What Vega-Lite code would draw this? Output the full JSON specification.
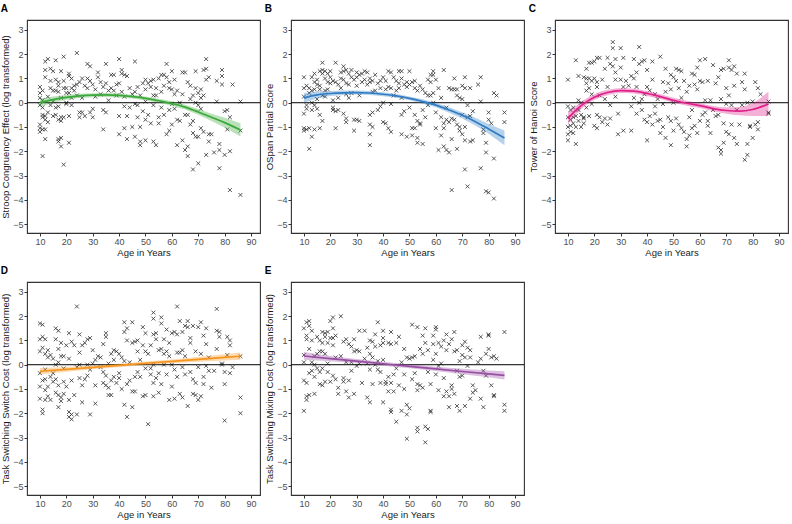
{
"$schema":"https://vega.github.io/schema/vega-lite/v6.json",
"padding":{"left":0,"top":3,"right":0,"bottom":0},
"background":"white",
"config":{
 "font":"Liberation Sans",
 "view":{"stroke":"#333333","strokeWidth":1.1},
 "axis":{"grid":false,"domain":false,"labelFontSize":9,"labelColor":"#4d4d4d","titleFontSize":9.5,"titleFontWeight":"normal","titleColor":"#1a1a1a","tickColor":"#333333","tickSize":3,"labelPadding":1,"titlePadding":2,"labelFont":"Liberation Sans","titleFont":"Liberation Sans","labelOverlap":false,"labelFlush":false,"labelBound":false},
 "axisX":{"labelPadding":1,"titlePadding":1},
 "title":{"fontSize":10,"fontWeight":"bold","anchor":"start","frame":"bounds","offset":6,"font":"Liberation Sans","color":"#000000"}
},
"columns":3,
"spacing":{"row":7,"column":2},
"datasets":{
"ptsA":[{"age":10,"v":0.65},{"age":10,"v":0.4},{"age":10,"v":0.2},{"age":10,"v":-0.1},{"age":10,"v":-0.9},{"age":10,"v":-1.05},{"age":10,"v":-1.2},{"age":11,"v":0.5},{"age":11,"v":0.1},{"age":11,"v":-0.2},{"age":11,"v":-0.5},{"age":11,"v":-0.6},{"age":11,"v":-1.1},{"age":11,"v":-2.2},{"age":12,"v":1.7},{"age":12,"v":1.35},{"age":12,"v":1.05},{"age":12,"v":-0.55},{"age":12,"v":-0.7},{"age":12,"v":-1.5},{"age":12,"v":-1.1},{"age":13,"v":1.8},{"age":13,"v":0.25},{"age":13,"v":-0.4},{"age":13,"v":-0.8},{"age":14,"v":1.4},{"age":14,"v":0.9},{"age":14,"v":0.6},{"age":14,"v":-0.1},{"age":15,"v":1.3},{"age":15,"v":0.5},{"age":15,"v":0.05},{"age":15,"v":-0.55},{"age":16,"v":1.75},{"age":16,"v":0.95},{"age":16,"v":0.5},{"age":16,"v":-0.2},{"age":16,"v":-0.5},{"age":17,"v":0.85},{"age":17,"v":0.7},{"age":17,"v":0.45},{"age":17,"v":-0.15},{"age":17,"v":-0.7},{"age":17,"v":-1.5},{"age":17,"v":-1.6},{"age":18,"v":1.3},{"age":18,"v":0.2},{"age":18,"v":-0.6},{"age":18,"v":-0.75},{"age":18,"v":-1.45},{"age":18,"v":-1.8},{"age":19,"v":1.9},{"age":19,"v":0.9},{"age":19,"v":0.6},{"age":19,"v":-0.6},{"age":19,"v":-2.55},{"age":20,"v":0.6},{"age":20,"v":0.4},{"age":20,"v":0.0},{"age":20,"v":-0.05},{"age":21,"v":1.2},{"age":21,"v":1.1},{"age":21,"v":0.4},{"age":21,"v":-0.55},{"age":21,"v":-1.65},{"age":22,"v":1.0},{"age":22,"v":0.6},{"age":22,"v":0.2},{"age":22,"v":-0.1},{"age":23,"v":0.7},{"age":23,"v":0.5},{"age":24,"v":2.05},{"age":24,"v":0.75},{"age":24,"v":0.3},{"age":25,"v":0.85},{"age":25,"v":-0.4},{"age":25,"v":-0.6},{"age":26,"v":1.0},{"age":26,"v":0.2},{"age":26,"v":-0.4},{"age":27,"v":0.7},{"age":27,"v":-0.55},{"age":28,"v":1.6},{"age":28,"v":1.0},{"age":28,"v":0.6},{"age":29,"v":1.5},{"age":29,"v":0.9},{"age":29,"v":-0.4},{"age":30,"v":0.75},{"age":30,"v":-0.25},{"age":30,"v":-0.6},{"age":31,"v":0.55},{"age":31,"v":0.25},{"age":32,"v":1.25},{"age":32,"v":1.05},{"age":33,"v":0.85},{"age":33,"v":0.35},{"age":34,"v":0.65},{"age":34,"v":-0.3},{"age":34,"v":-1.1},{"age":35,"v":1.6},{"age":35,"v":0.8},{"age":35,"v":-0.4},{"age":36,"v":0.5},{"age":36,"v":0.1},{"age":37,"v":1.15},{"age":37,"v":0.6},{"age":38,"v":1.15},{"age":38,"v":0.5},{"age":39,"v":0.75},{"age":39,"v":0.3},{"age":40,"v":1.8},{"age":40,"v":0.8},{"age":40,"v":-0.55},{"age":40,"v":-1.3},{"age":41,"v":1.35},{"age":41,"v":1.2},{"age":41,"v":0.45},{"age":42,"v":1.15},{"age":42,"v":0.25},{"age":42,"v":-0.15},{"age":42,"v":-1.05},{"age":43,"v":1.1},{"age":43,"v":-0.55},{"age":43,"v":-1.5},{"age":44,"v":0.6},{"age":44,"v":-0.2},{"age":45,"v":0.35},{"age":45,"v":-1.0},{"age":46,"v":1.7},{"age":46,"v":0.45},{"age":46,"v":-0.05},{"age":46,"v":-1.4},{"age":47,"v":0.65},{"age":47,"v":-0.1},{"age":47,"v":-0.6},{"age":48,"v":0.3},{"age":48,"v":-1.0},{"age":48,"v":-1.6},{"age":48,"v":-1.75},{"age":49,"v":0.8},{"age":49,"v":-0.35},{"age":50,"v":0.95},{"age":50,"v":0.55},{"age":50,"v":0.05},{"age":50,"v":-0.7},{"age":50,"v":-1.55},{"age":51,"v":0.8},{"age":51,"v":-0.5},{"age":52,"v":0.9},{"age":52,"v":0.65},{"age":52,"v":-0.85},{"age":53,"v":0.95},{"age":53,"v":0.3},{"age":53,"v":-0.1},{"age":53,"v":-1.6},{"age":54,"v":0.6},{"age":54,"v":0.3},{"age":54,"v":-1.75},{"age":55,"v":1.0},{"age":55,"v":-0.6},{"age":55,"v":-0.85},{"age":56,"v":1.15},{"age":56,"v":0.45},{"age":56,"v":-0.2},{"age":57,"v":1.15},{"age":57,"v":0.7},{"age":57,"v":-0.5},{"age":58,"v":1.6},{"age":58,"v":1.05},{"age":58,"v":-1.3},{"age":59,"v":0.85},{"age":59,"v":0.6},{"age":59,"v":-0.3},{"age":59,"v":-1.15},{"age":60,"v":1.3},{"age":60,"v":0.55},{"age":60,"v":-0.05},{"age":60,"v":-0.9},{"age":61,"v":0.95},{"age":61,"v":0.35},{"age":61,"v":-0.25},{"age":62,"v":0.5},{"age":62,"v":-0.7},{"age":62,"v":-1.75},{"age":63,"v":0.0},{"age":63,"v":-0.75},{"age":64,"v":1.25},{"age":64,"v":0.35},{"age":64,"v":-1.55},{"age":65,"v":1.25},{"age":65,"v":-0.5},{"age":65,"v":-1.95},{"age":66,"v":0.85},{"age":66,"v":-0.5},{"age":66,"v":-1.8},{"age":66,"v":-2.2},{"age":67,"v":0.7},{"age":67,"v":0.15},{"age":67,"v":-0.9},{"age":68,"v":0.3},{"age":68,"v":-0.75},{"age":68,"v":-1.25},{"age":68,"v":-2.75},{"age":69,"v":1.3},{"age":69,"v":0.6},{"age":69,"v":0.0},{"age":69,"v":-1.4},{"age":70,"v":0.4},{"age":70,"v":-0.1},{"age":70,"v":-1.4},{"age":70,"v":-2.5},{"age":71,"v":0.55},{"age":71,"v":0.2},{"age":71,"v":-0.25},{"age":71,"v":-1.05},{"age":72,"v":1.35},{"age":72,"v":0.3},{"age":72,"v":-1.2},{"age":73,"v":1.8},{"age":73,"v":1.4},{"age":73,"v":0.95},{"age":73,"v":-2.15},{"age":74,"v":1.05},{"age":74,"v":-1.3},{"age":74,"v":-1.6},{"age":75,"v":-1.3},{"age":76,"v":-2.05},{"age":77,"v":0.9},{"age":77,"v":0.05},{"age":78,"v":-1.7},{"age":78,"v":-2.7},{"age":78,"v":-1.95},{"age":79,"v":1.35},{"age":79,"v":1.1},{"age":79,"v":0.75},{"age":80,"v":-0.35},{"age":80,"v":-2.15},{"age":81,"v":-0.3},{"age":81,"v":-1.1},{"age":82,"v":-0.6},{"age":82,"v":-2.0},{"age":82,"v":-3.6},{"age":83,"v":0.75},{"age":86,"v":0.05},{"age":86,"v":-1.15},{"age":86,"v":-3.8}],
"ptsB":[{"age":10,"v":1.05},{"age":10,"v":0.6},{"age":10,"v":0.25},{"age":10,"v":-0.45},{"age":10,"v":-1.05},{"age":10,"v":-1.15},{"age":11,"v":0.7},{"age":11,"v":-0.1},{"age":11,"v":-0.25},{"age":11,"v":-1.1},{"age":12,"v":0.6},{"age":12,"v":0.4},{"age":12,"v":-1.05},{"age":12,"v":-1.9},{"age":13,"v":1.05},{"age":13,"v":0.5},{"age":13,"v":0.0},{"age":13,"v":-0.3},{"age":13,"v":-1.4},{"age":14,"v":1.2},{"age":14,"v":0.85},{"age":14,"v":0.55},{"age":14,"v":-0.1},{"age":14,"v":-1.1},{"age":15,"v":0.95},{"age":15,"v":0.75},{"age":15,"v":0.15},{"age":15,"v":-0.25},{"age":16,"v":1.3},{"age":16,"v":0.7},{"age":16,"v":0.55},{"age":16,"v":-0.5},{"age":16,"v":-1.05},{"age":17,"v":1.65},{"age":17,"v":1.35},{"age":17,"v":1.2},{"age":17,"v":0.3},{"age":17,"v":-0.75},{"age":18,"v":1.3},{"age":18,"v":1.0},{"age":18,"v":0.5},{"age":18,"v":0.25},{"age":19,"v":1.2},{"age":19,"v":0.85},{"age":19,"v":0.55},{"age":20,"v":1.3},{"age":20,"v":1.05},{"age":20,"v":0.8},{"age":21,"v":0.9},{"age":21,"v":0.1},{"age":21,"v":-0.2},{"age":21,"v":-0.3},{"age":22,"v":1.65},{"age":22,"v":0.85},{"age":22,"v":-0.35},{"age":22,"v":-1.05},{"age":23,"v":0.75},{"age":23,"v":0.2},{"age":23,"v":-0.3},{"age":24,"v":1.25},{"age":24,"v":1.0},{"age":24,"v":0.6},{"age":25,"v":1.5},{"age":25,"v":1.3},{"age":25,"v":0.95},{"age":25,"v":-0.45},{"age":26,"v":1.35},{"age":26,"v":0.8},{"age":26,"v":0.35},{"age":26,"v":-0.65},{"age":26,"v":-0.8},{"age":27,"v":1.2},{"age":27,"v":0.75},{"age":27,"v":0.2},{"age":28,"v":1.35},{"age":28,"v":1.05},{"age":28,"v":0.4},{"age":29,"v":0.95},{"age":29,"v":-0.7},{"age":29,"v":-1.15},{"age":30,"v":1.25},{"age":30,"v":1.05},{"age":30,"v":0.7},{"age":30,"v":-0.7},{"age":31,"v":1.15},{"age":31,"v":0.3},{"age":31,"v":-0.75},{"age":32,"v":1.2},{"age":32,"v":0.85},{"age":33,"v":1.3},{"age":33,"v":0.95},{"age":34,"v":1.25},{"age":34,"v":0.75},{"age":35,"v":1.0},{"age":35,"v":0.85},{"age":35,"v":-0.5},{"age":35,"v":-0.9},{"age":35,"v":-1.3},{"age":35,"v":-1.75},{"age":36,"v":0.9},{"age":36,"v":0.45},{"age":36,"v":-0.4},{"age":36,"v":-1.0},{"age":37,"v":1.15},{"age":37,"v":0.5},{"age":38,"v":0.8},{"age":38,"v":-0.3},{"age":39,"v":0.9},{"age":39,"v":0.6},{"age":39,"v":-0.15},{"age":40,"v":1.05},{"age":40,"v":0.0},{"age":40,"v":-0.8},{"age":41,"v":0.9},{"age":41,"v":0.55},{"age":41,"v":-0.85},{"age":42,"v":1.3},{"age":42,"v":0.65},{"age":42,"v":-1.05},{"age":43,"v":1.25},{"age":43,"v":0.6},{"age":43,"v":-0.05},{"age":43,"v":-1.2},{"age":44,"v":1.05},{"age":44,"v":0.3},{"age":45,"v":0.9},{"age":45,"v":0.5},{"age":46,"v":1.3},{"age":46,"v":0.8},{"age":46,"v":0.6},{"age":47,"v":1.3},{"age":47,"v":1.0},{"age":47,"v":0.2},{"age":47,"v":-0.5},{"age":47,"v":-1.3},{"age":48,"v":0.75},{"age":48,"v":-0.35},{"age":49,"v":0.85},{"age":49,"v":0.65},{"age":49,"v":-1.4},{"age":50,"v":1.3},{"age":50,"v":0.75},{"age":50,"v":-0.2},{"age":51,"v":0.85},{"age":51,"v":-1.05},{"age":51,"v":-1.35},{"age":52,"v":0.9},{"age":52,"v":0.6},{"age":52,"v":-0.5},{"age":52,"v":-1.05},{"age":53,"v":0.5},{"age":53,"v":-0.75},{"age":53,"v":-1.45},{"age":53,"v":-1.65},{"age":54,"v":0.7},{"age":54,"v":-0.85},{"age":54,"v":-0.9},{"age":55,"v":0.55},{"age":55,"v":-0.3},{"age":55,"v":-1.7},{"age":56,"v":0.4},{"age":56,"v":-0.6},{"age":57,"v":0.95},{"age":57,"v":0.3},{"age":57,"v":-0.1},{"age":58,"v":1.15},{"age":58,"v":0.85},{"age":58,"v":0.3},{"age":59,"v":1.3},{"age":59,"v":1.15},{"age":59,"v":0.4},{"age":59,"v":0.0},{"age":60,"v":0.95},{"age":60,"v":-0.4},{"age":60,"v":-1.05},{"age":61,"v":0.6},{"age":61,"v":-1.95},{"age":62,"v":0.2},{"age":62,"v":-0.6},{"age":62,"v":-1.35},{"age":63,"v":1.35},{"age":63,"v":-0.85},{"age":63,"v":-1.05},{"age":63,"v":-1.8},{"age":64,"v":-0.2},{"age":64,"v":-0.7},{"age":64,"v":-1.95},{"age":65,"v":-2.05},{"age":65,"v":0.6},{"age":65,"v":-0.8},{"age":66,"v":0.55},{"age":66,"v":-0.65},{"age":66,"v":-1.5},{"age":66,"v":-3.6},{"age":67,"v":1.0},{"age":67,"v":0.55},{"age":67,"v":-0.7},{"age":68,"v":0.55},{"age":68,"v":0.3},{"age":68,"v":-0.9},{"age":68,"v":-1.9},{"age":69,"v":0.2},{"age":69,"v":-1.0},{"age":69,"v":-1.15},{"age":70,"v":0.7},{"age":70,"v":0.15},{"age":70,"v":-0.5},{"age":70,"v":-1.3},{"age":71,"v":1.05},{"age":71,"v":0.6},{"age":71,"v":-1.0},{"age":71,"v":-1.55},{"age":71,"v":-2.75},{"age":72,"v":-0.1},{"age":72,"v":-0.6},{"age":72,"v":-3.45},{"age":73,"v":0.6},{"age":73,"v":-0.55},{"age":73,"v":-1.6},{"age":74,"v":-0.35},{"age":74,"v":-1.55},{"age":76,"v":0.75},{"age":77,"v":1.05},{"age":77,"v":0.05},{"age":77,"v":-2.7},{"age":78,"v":-1.1},{"age":78,"v":-1.25},{"age":79,"v":-1.65},{"age":79,"v":-2.05},{"age":79,"v":-3.65},{"age":80,"v":-0.4},{"age":80,"v":-0.7},{"age":80,"v":-3.7},{"age":81,"v":-0.85},{"age":82,"v":0.4},{"age":82,"v":-2.3},{"age":82,"v":-3.95},{"age":83,"v":0.3},{"age":86,"v":-0.4},{"age":86,"v":-0.8}],
"ptsC":[{"age":10,"v":0.95},{"age":10,"v":-0.15},{"age":10,"v":-0.6},{"age":10,"v":-1.0},{"age":10,"v":-1.3},{"age":10,"v":-1.55},{"age":11,"v":-0.3},{"age":11,"v":-0.7},{"age":11,"v":-1.2},{"age":11,"v":-0.95},{"age":12,"v":-0.2},{"age":12,"v":-0.6},{"age":12,"v":-1.25},{"age":12,"v":-0.85},{"age":13,"v":1.75},{"age":13,"v":-0.55},{"age":13,"v":-1.0},{"age":13,"v":-1.7},{"age":14,"v":1.1},{"age":14,"v":0.1},{"age":14,"v":-0.3},{"age":14,"v":-0.75},{"age":15,"v":0.0},{"age":15,"v":-0.5},{"age":15,"v":-1.0},{"age":16,"v":1.05},{"age":16,"v":-0.6},{"age":16,"v":-0.65},{"age":16,"v":-0.85},{"age":17,"v":1.4},{"age":17,"v":1.0},{"age":17,"v":0.8},{"age":17,"v":0.5},{"age":17,"v":-0.2},{"age":18,"v":1.65},{"age":18,"v":1.0},{"age":18,"v":0.6},{"age":18,"v":-0.55},{"age":19,"v":1.65},{"age":19,"v":0.9},{"age":19,"v":0.35},{"age":19,"v":-0.05},{"age":20,"v":1.7},{"age":20,"v":1.0},{"age":20,"v":-0.95},{"age":21,"v":1.85},{"age":21,"v":0.85},{"age":21,"v":0.65},{"age":21,"v":-1.05},{"age":21,"v":-0.5},{"age":22,"v":1.85},{"age":22,"v":0.3},{"age":22,"v":-0.6},{"age":23,"v":0.95},{"age":23,"v":-0.8},{"age":24,"v":1.4},{"age":24,"v":0.15},{"age":24,"v":-0.65},{"age":25,"v":1.85},{"age":25,"v":0.65},{"age":25,"v":-0.9},{"age":26,"v":1.6},{"age":26,"v":-0.1},{"age":26,"v":-0.65},{"age":27,"v":2.5},{"age":27,"v":2.25},{"age":27,"v":1.5},{"age":28,"v":1.8},{"age":28,"v":1.25},{"age":28,"v":0.95},{"age":28,"v":0.25},{"age":29,"v":-0.45},{"age":29,"v":-1.3},{"age":30,"v":2.25},{"age":30,"v":1.45},{"age":30,"v":0.95},{"age":31,"v":1.85},{"age":31,"v":0.65},{"age":31,"v":-1.15},{"age":32,"v":0.9},{"age":33,"v":0.7},{"age":34,"v":1.1},{"age":34,"v":-0.15},{"age":34,"v":-1.15},{"age":35,"v":1.0},{"age":35,"v":1.8},{"age":35,"v":0.2},{"age":36,"v":1.25},{"age":36,"v":0.65},{"age":36,"v":-0.45},{"age":37,"v":2.3},{"age":37,"v":1.6},{"age":37,"v":0.0},{"age":38,"v":1.7},{"age":38,"v":0.15},{"age":38,"v":-0.3},{"age":39,"v":1.75},{"age":39,"v":0.35},{"age":39,"v":-0.7},{"age":40,"v":1.35},{"age":40,"v":0.65},{"age":40,"v":-0.8},{"age":40,"v":-1.55},{"age":41,"v":0.5},{"age":41,"v":-0.55},{"age":42,"v":1.7},{"age":42,"v":0.95},{"age":42,"v":-0.9},{"age":43,"v":0.35},{"age":43,"v":-0.15},{"age":43,"v":-0.45},{"age":44,"v":0.15},{"age":44,"v":-0.75},{"age":45,"v":1.9},{"age":45,"v":-0.7},{"age":45,"v":-1.25},{"age":46,"v":0.85},{"age":46,"v":-0.05},{"age":46,"v":-1.0},{"age":47,"v":1.4},{"age":47,"v":0.45},{"age":47,"v":-1.45},{"age":48,"v":0.8},{"age":48,"v":-0.6},{"age":49,"v":1.15},{"age":49,"v":0.55},{"age":49,"v":-0.75},{"age":49,"v":-1.75},{"age":50,"v":1.05},{"age":50,"v":0.0},{"age":50,"v":-1.15},{"age":51,"v":1.4},{"age":51,"v":0.9},{"age":51,"v":-0.65},{"age":52,"v":1.35},{"age":52,"v":0.6},{"age":52,"v":-0.9},{"age":53,"v":1.3},{"age":53,"v":0.2},{"age":53,"v":-1.05},{"age":54,"v":0.9},{"age":54,"v":-1.2},{"age":55,"v":0.45},{"age":55,"v":-1.5},{"age":55,"v":-1.8},{"age":56,"v":0.7},{"age":56,"v":-0.6},{"age":56,"v":-1.35},{"age":57,"v":1.2},{"age":57,"v":-0.3},{"age":57,"v":-1.05},{"age":58,"v":1.15},{"age":58,"v":0.75},{"age":58,"v":-0.95},{"age":59,"v":1.45},{"age":59,"v":0.55},{"age":59,"v":-1.25},{"age":60,"v":1.75},{"age":60,"v":0.9},{"age":60,"v":-0.75},{"age":61,"v":0.85},{"age":61,"v":-0.5},{"age":62,"v":1.8},{"age":62,"v":0.1},{"age":62,"v":-0.4},{"age":63,"v":0.9},{"age":63,"v":-0.75},{"age":63,"v":-0.95},{"age":64,"v":-1.25},{"age":64,"v":0.1},{"age":65,"v":1.55},{"age":65,"v":-0.3},{"age":66,"v":0.8},{"age":66,"v":-0.55},{"age":67,"v":1.05},{"age":67,"v":-0.5},{"age":67,"v":-1.85},{"age":68,"v":1.35},{"age":68,"v":0.15},{"age":68,"v":-2.1},{"age":68,"v":-1.95},{"age":69,"v":1.4},{"age":69,"v":-0.85},{"age":69,"v":-1.65},{"age":70,"v":0.6},{"age":70,"v":-0.05},{"age":70,"v":-1.2},{"age":71,"v":1.75},{"age":71,"v":1.45},{"age":71,"v":0.3},{"age":71,"v":-1.3},{"age":72,"v":1.35},{"age":72,"v":-0.1},{"age":72,"v":-0.9},{"age":73,"v":1.5},{"age":73,"v":0.7},{"age":73,"v":-1.45},{"age":74,"v":1.2},{"age":74,"v":-0.3},{"age":74,"v":-1.7},{"age":75,"v":-0.9},{"age":76,"v":0.85},{"age":76,"v":-0.1},{"age":77,"v":1.2},{"age":77,"v":0.55},{"age":77,"v":-2.35},{"age":78,"v":0.0},{"age":78,"v":-1.7},{"age":78,"v":-2.15},{"age":79,"v":-1.0},{"age":79,"v":-0.95},{"age":80,"v":0.05},{"age":80,"v":-1.45},{"age":81,"v":-0.9},{"age":81,"v":0.85},{"age":82,"v":0.6},{"age":82,"v":-0.8},{"age":82,"v":-1.1},{"age":83,"v":0.35},{"age":86,"v":0.05},{"age":86,"v":-0.4},{"age":86,"v":-0.45}],
"ptsD":[{"age":10,"v":1.7},{"age":10,"v":1.05},{"age":10,"v":0.55},{"age":10,"v":-0.35},{"age":10,"v":-0.9},{"age":10,"v":-1.4},{"age":11,"v":1.65},{"age":11,"v":1.15},{"age":11,"v":0.7},{"age":11,"v":-0.65},{"age":11,"v":-1.85},{"age":11,"v":-2.0},{"age":12,"v":1.05},{"age":12,"v":0.45},{"age":12,"v":-0.2},{"age":12,"v":-0.6},{"age":12,"v":-1.05},{"age":12,"v":-1.45},{"age":13,"v":0.6},{"age":13,"v":0.3},{"age":13,"v":-0.9},{"age":13,"v":-1.3},{"age":14,"v":0.4},{"age":14,"v":-0.5},{"age":14,"v":-1.45},{"age":15,"v":0.25},{"age":15,"v":-0.35},{"age":15,"v":-0.7},{"age":16,"v":1.5},{"age":16,"v":1.05},{"age":16,"v":0.0},{"age":16,"v":-0.6},{"age":16,"v":-1.15},{"age":17,"v":1.4},{"age":17,"v":0.65},{"age":17,"v":0.1},{"age":17,"v":-0.85},{"age":17,"v":-1.25},{"age":17,"v":-1.75},{"age":18,"v":0.9},{"age":18,"v":0.35},{"age":18,"v":-1.35},{"age":18,"v":-1.5},{"age":19,"v":0.35},{"age":19,"v":-0.15},{"age":19,"v":-0.7},{"age":19,"v":-1.2},{"age":20,"v":0.8},{"age":20,"v":-0.9},{"age":21,"v":1.3},{"age":21,"v":0.25},{"age":21,"v":-1.45},{"age":21,"v":-1.95},{"age":21,"v":-2.15},{"age":22,"v":0.95},{"age":22,"v":-0.65},{"age":22,"v":-2.05},{"age":22,"v":-2.25},{"age":23,"v":0.8},{"age":23,"v":-1.25},{"age":24,"v":2.4},{"age":24,"v":-0.1},{"age":24,"v":-2.05},{"age":25,"v":1.25},{"age":25,"v":0.5},{"age":25,"v":0.0},{"age":25,"v":-0.55},{"age":26,"v":0.8},{"age":26,"v":-0.85},{"age":26,"v":-1.55},{"age":27,"v":0.9},{"age":27,"v":-0.6},{"age":28,"v":1.05},{"age":28,"v":0.0},{"age":28,"v":-0.45},{"age":29,"v":1.1},{"age":29,"v":-0.2},{"age":29,"v":-2.05},{"age":30,"v":0.6},{"age":30,"v":0.05},{"age":31,"v":0.2},{"age":31,"v":-0.85},{"age":31,"v":-1.6},{"age":32,"v":0.35},{"age":33,"v":0.3},{"age":33,"v":-0.1},{"age":34,"v":0.85},{"age":34,"v":-0.3},{"age":34,"v":-0.75},{"age":35,"v":1.3},{"age":35,"v":1.15},{"age":35,"v":-0.45},{"age":35,"v":-0.85},{"age":36,"v":0.05},{"age":36,"v":-0.95},{"age":36,"v":-1.25},{"age":37,"v":0.45},{"age":37,"v":-0.65},{"age":37,"v":-1.25},{"age":38,"v":0.6},{"age":38,"v":0.2},{"age":38,"v":-0.5},{"age":39,"v":0.55},{"age":39,"v":-0.75},{"age":40,"v":0.45},{"age":40,"v":-0.35},{"age":40,"v":-0.55},{"age":41,"v":0.3},{"age":41,"v":-1.0},{"age":42,"v":1.75},{"age":42,"v":1.35},{"age":42,"v":0.15},{"age":42,"v":-1.65},{"age":43,"v":1.5},{"age":43,"v":1.0},{"age":43,"v":-0.8},{"age":43,"v":-2.15},{"age":44,"v":0.1},{"age":44,"v":-0.65},{"age":45,"v":1.75},{"age":45,"v":0.9},{"age":45,"v":-1.1},{"age":45,"v":-1.75},{"age":46,"v":0.95},{"age":46,"v":-0.5},{"age":46,"v":-1.1},{"age":47,"v":1.0},{"age":47,"v":0.55},{"age":47,"v":-0.3},{"age":48,"v":0.2},{"age":48,"v":-0.5},{"age":49,"v":1.55},{"age":49,"v":0.8},{"age":49,"v":-1.3},{"age":50,"v":1.3},{"age":50,"v":0.55},{"age":50,"v":-1.25},{"age":50,"v":-0.15},{"age":51,"v":0.45},{"age":51,"v":-2.45},{"age":52,"v":0.8},{"age":52,"v":-0.15},{"age":52,"v":-0.4},{"age":53,"v":2.15},{"age":53,"v":1.9},{"age":53,"v":1.25},{"age":53,"v":0.0},{"age":53,"v":-0.75},{"age":53,"v":-1.3},{"age":54,"v":1.3},{"age":54,"v":1.05},{"age":54,"v":-0.55},{"age":55,"v":0.6},{"age":55,"v":-0.35},{"age":55,"v":-1.15},{"age":56,"v":1.95},{"age":56,"v":1.7},{"age":56,"v":0.65},{"age":56,"v":-0.8},{"age":57,"v":1.05},{"age":57,"v":0.45},{"age":57,"v":0.0},{"age":58,"v":1.45},{"age":58,"v":0.55},{"age":58,"v":-0.4},{"age":59,"v":0.9},{"age":59,"v":0.35},{"age":59,"v":-1.45},{"age":60,"v":1.3},{"age":60,"v":0.0},{"age":60,"v":-0.9},{"age":61,"v":1.35},{"age":61,"v":-0.2},{"age":61,"v":-1.4},{"age":62,"v":2.4},{"age":62,"v":1.25},{"age":62,"v":0.5},{"age":62,"v":-0.5},{"age":63,"v":1.8},{"age":63,"v":0.5},{"age":63,"v":-1.2},{"age":64,"v":1.35},{"age":64,"v":0.6},{"age":64,"v":-0.1},{"age":64,"v":-1.35},{"age":65,"v":1.6},{"age":65,"v":0.35},{"age":65,"v":-0.4},{"age":66,"v":1.8},{"age":66,"v":1.55},{"age":66,"v":-1.7},{"age":67,"v":1.1},{"age":67,"v":0.9},{"age":67,"v":-0.3},{"age":68,"v":1.6},{"age":68,"v":-0.6},{"age":68,"v":-1.2},{"age":69,"v":0.55},{"age":69,"v":-0.75},{"age":69,"v":-1.25},{"age":70,"v":1.55},{"age":70,"v":-0.1},{"age":70,"v":-1.45},{"age":71,"v":1.75},{"age":71,"v":0.45},{"age":71,"v":-1.3},{"age":72,"v":1.2},{"age":72,"v":-0.5},{"age":72,"v":-0.8},{"age":73,"v":1.5},{"age":73,"v":0.85},{"age":73,"v":-0.05},{"age":74,"v":0.3},{"age":74,"v":-0.25},{"age":75,"v":-0.95},{"age":76,"v":-0.25},{"age":77,"v":2.3},{"age":77,"v":1.4},{"age":77,"v":0.65},{"age":78,"v":1.35},{"age":78,"v":1.15},{"age":79,"v":0.05},{"age":79,"v":0.0},{"age":80,"v":-0.3},{"age":80,"v":-0.8},{"age":80,"v":-2.3},{"age":81,"v":1.15},{"age":81,"v":0.4},{"age":82,"v":1.0},{"age":82,"v":0.8},{"age":82,"v":-0.35},{"age":83,"v":-0.1},{"age":86,"v":0.35},{"age":86,"v":-1.35},{"age":86,"v":-2.0}],
"ptsE":[{"age":10,"v":1.5},{"age":10,"v":0.4},{"age":10,"v":0.1},{"age":10,"v":-0.65},{"age":10,"v":-1.9},{"age":11,"v":1.75},{"age":11,"v":1.2},{"age":11,"v":1.05},{"age":11,"v":-0.75},{"age":11,"v":-1.3},{"age":11,"v":-1.45},{"age":12,"v":1.8},{"age":12,"v":1.6},{"age":12,"v":0.65},{"age":12,"v":-0.35},{"age":12,"v":-1.25},{"age":13,"v":1.4},{"age":13,"v":1.0},{"age":13,"v":0.1},{"age":13,"v":-0.25},{"age":14,"v":0.35},{"age":14,"v":0.0},{"age":14,"v":-0.5},{"age":14,"v":-1.2},{"age":15,"v":1.15},{"age":15,"v":0.45},{"age":15,"v":-0.15},{"age":16,"v":1.0},{"age":16,"v":0.55},{"age":16,"v":-0.3},{"age":16,"v":-0.8},{"age":17,"v":1.35},{"age":17,"v":0.9},{"age":17,"v":0.55},{"age":17,"v":-0.15},{"age":17,"v":-0.85},{"age":18,"v":1.3},{"age":18,"v":1.15},{"age":18,"v":0.45},{"age":18,"v":-0.7},{"age":19,"v":1.35},{"age":19,"v":0.9},{"age":19,"v":0.05},{"age":19,"v":-0.3},{"age":20,"v":1.8},{"age":20,"v":1.1},{"age":20,"v":-0.7},{"age":21,"v":1.95},{"age":21,"v":1.5},{"age":21,"v":1.1},{"age":21,"v":0.8},{"age":21,"v":-0.45},{"age":22,"v":1.2},{"age":22,"v":0.3},{"age":22,"v":-0.6},{"age":23,"v":-0.95},{"age":23,"v":-1.2},{"age":24,"v":2.0},{"age":24,"v":0.35},{"age":25,"v":0.95},{"age":25,"v":-0.55},{"age":25,"v":-0.7},{"age":26,"v":1.05},{"age":26,"v":0.1},{"age":26,"v":-1.1},{"age":27,"v":0.85},{"age":27,"v":-0.65},{"age":27,"v":-1.35},{"age":28,"v":0.75},{"age":28,"v":0.1},{"age":28,"v":-0.25},{"age":29,"v":1.05},{"age":29,"v":0.55},{"age":29,"v":-1.2},{"age":30,"v":0.6},{"age":30,"v":-0.05},{"age":31,"v":1.4},{"age":31,"v":0.55},{"age":31,"v":0.05},{"age":32,"v":-0.75},{"age":33,"v":1.4},{"age":33,"v":0.25},{"age":34,"v":0.7},{"age":34,"v":0.05},{"age":34,"v":-1.35},{"age":35,"v":1.0},{"age":35,"v":0.45},{"age":35,"v":-0.2},{"age":35,"v":-1.55},{"age":36,"v":0.95},{"age":36,"v":0.3},{"age":36,"v":-0.8},{"age":37,"v":1.25},{"age":37,"v":0.75},{"age":37,"v":0.0},{"age":38,"v":1.75},{"age":38,"v":0.15},{"age":38,"v":-0.2},{"age":39,"v":0.8},{"age":39,"v":-0.3},{"age":39,"v":-0.75},{"age":40,"v":1.4},{"age":40,"v":1.1},{"age":40,"v":0.9},{"age":40,"v":0.2},{"age":40,"v":-1.55},{"age":41,"v":-0.7},{"age":41,"v":-0.8},{"age":42,"v":0.9},{"age":42,"v":-0.5},{"age":42,"v":-1.1},{"age":43,"v":1.35},{"age":43,"v":0.85},{"age":43,"v":-1.85},{"age":43,"v":-1.95},{"age":43,"v":-0.75},{"age":44,"v":-0.4},{"age":44,"v":-1.1},{"age":45,"v":0.9},{"age":45,"v":-0.15},{"age":45,"v":-2.35},{"age":46,"v":1.15},{"age":46,"v":-0.85},{"age":47,"v":0.1},{"age":47,"v":-1.9},{"age":48,"v":0.65},{"age":48,"v":-0.4},{"age":48,"v":-1.0},{"age":49,"v":0.3},{"age":49,"v":-1.65},{"age":49,"v":-2.05},{"age":49,"v":-3.05},{"age":50,"v":-1.8},{"age":50,"v":0.25},{"age":51,"v":1.65},{"age":51,"v":0.3},{"age":51,"v":-0.6},{"age":52,"v":0.35},{"age":52,"v":-0.35},{"age":53,"v":1.55},{"age":53,"v":-0.8},{"age":53,"v":-1.05},{"age":53,"v":-2.6},{"age":53,"v":-2.75},{"age":54,"v":0.65},{"age":54,"v":-0.85},{"age":55,"v":1.2},{"age":55,"v":0.45},{"age":55,"v":-0.95},{"age":56,"v":1.5},{"age":56,"v":0.9},{"age":56,"v":-2.55},{"age":56,"v":-3.2},{"age":57,"v":0.6},{"age":57,"v":-0.3},{"age":57,"v":-2.65},{"age":58,"v":-1.9},{"age":58,"v":-1.95},{"age":58,"v":-0.8},{"age":59,"v":1.2},{"age":59,"v":0.85},{"age":59,"v":0.2},{"age":60,"v":1.55},{"age":60,"v":1.45},{"age":60,"v":0.45},{"age":60,"v":-0.4},{"age":61,"v":0.9},{"age":61,"v":-0.05},{"age":61,"v":-1.05},{"age":62,"v":0.75},{"age":62,"v":0.05},{"age":63,"v":1.0},{"age":63,"v":-0.55},{"age":63,"v":-1.3},{"age":64,"v":1.25},{"age":64,"v":0.6},{"age":64,"v":-1.1},{"age":65,"v":0.85},{"age":65,"v":-1.75},{"age":65,"v":-1.3},{"age":66,"v":1.05},{"age":66,"v":-0.85},{"age":66,"v":-1.0},{"age":67,"v":1.35},{"age":67,"v":0.55},{"age":67,"v":-1.2},{"age":68,"v":0.6},{"age":68,"v":-0.25},{"age":68,"v":-1.7},{"age":69,"v":0.15},{"age":69,"v":-0.5},{"age":69,"v":-1.9},{"age":70,"v":0.8},{"age":70,"v":0.4},{"age":70,"v":-0.45},{"age":71,"v":0.95},{"age":71,"v":0.3},{"age":71,"v":-1.7},{"age":72,"v":0.7},{"age":72,"v":-0.05},{"age":73,"v":0.6},{"age":73,"v":0.3},{"age":73,"v":-1.4},{"age":74,"v":-0.85},{"age":74,"v":-1.15},{"age":75,"v":-1.05},{"age":76,"v":0.1},{"age":77,"v":1.15},{"age":77,"v":0.25},{"age":77,"v":-1.4},{"age":78,"v":-0.25},{"age":78,"v":-1.75},{"age":79,"v":0.45},{"age":79,"v":-0.45},{"age":80,"v":1.2},{"age":80,"v":0.65},{"age":80,"v":1.25},{"age":81,"v":0.3},{"age":81,"v":-0.85},{"age":82,"v":0.35},{"age":82,"v":-1.25},{"age":82,"v":-1.3},{"age":83,"v":0.25},{"age":86,"v":1.35},{"age":86,"v":-1.65},{"age":86,"v":-1.9}],
"fitA":[{"age":10,"v":0.0,"lo":-0.17,"hi":0.17},{"age":15,"v":0.13,"lo":0.0,"hi":0.26},{"age":20,"v":0.22,"lo":0.12,"hi":0.32},{"age":25,"v":0.28,"lo":0.19,"hi":0.37},{"age":30,"v":0.31,"lo":0.23,"hi":0.39},{"age":35,"v":0.32,"lo":0.24,"hi":0.4},{"age":40,"v":0.3,"lo":0.22,"hi":0.38},{"age":45,"v":0.25,"lo":0.17,"hi":0.33},{"age":50,"v":0.18,"lo":0.1,"hi":0.26},{"age":55,"v":0.08,"lo":0.0,"hi":0.16},{"age":60,"v":-0.03,"lo":-0.12,"hi":0.06},{"age":65,"v":-0.18,"lo":-0.28,"hi":-0.08},{"age":70,"v":-0.38,"lo":-0.5,"hi":-0.26},{"age":75,"v":-0.6,"lo":-0.75,"hi":-0.45},{"age":80,"v":-0.82,"lo":-1.02,"hi":-0.62},{"age":86,"v":-1.12,"lo":-1.39,"hi":-0.85}],
"fitB":[{"age":10,"v":0.2,"lo":0.0,"hi":0.4},{"age":15,"v":0.32,"lo":0.18,"hi":0.46},{"age":20,"v":0.38,"lo":0.28,"hi":0.48},{"age":25,"v":0.41,"lo":0.32,"hi":0.5},{"age":30,"v":0.42,"lo":0.34,"hi":0.5},{"age":35,"v":0.4,"lo":0.32,"hi":0.48},{"age":40,"v":0.35,"lo":0.27,"hi":0.43},{"age":45,"v":0.28,"lo":0.2,"hi":0.36},{"age":50,"v":0.18,"lo":0.1,"hi":0.26},{"age":55,"v":0.05,"lo":-0.04,"hi":0.14},{"age":60,"v":-0.1,"lo":-0.19,"hi":-0.01},{"age":65,"v":-0.3,"lo":-0.41,"hi":-0.19},{"age":70,"v":-0.52,"lo":-0.65,"hi":-0.39},{"age":75,"v":-0.78,"lo":-0.94,"hi":-0.62},{"age":80,"v":-1.08,"lo":-1.28,"hi":-0.88},{"age":86,"v":-1.45,"lo":-1.75,"hi":-1.15}],
"fitC":[{"age":10,"v":-0.65,"lo":-0.9,"hi":-0.4},{"age":12,"v":-0.42,"lo":-0.62,"hi":-0.22},{"age":15,"v":-0.12,"lo":-0.27,"hi":0.03},{"age":20,"v":0.23,"lo":0.11,"hi":0.35},{"age":25,"v":0.42,"lo":0.31,"hi":0.53},{"age":30,"v":0.5,"lo":0.4,"hi":0.6},{"age":35,"v":0.48,"lo":0.38,"hi":0.58},{"age":40,"v":0.38,"lo":0.28,"hi":0.48},{"age":45,"v":0.25,"lo":0.15,"hi":0.35},{"age":50,"v":0.1,"lo":0.0,"hi":0.2},{"age":55,"v":-0.02,"lo":-0.12,"hi":0.08},{"age":60,"v":-0.12,"lo":-0.22,"hi":-0.02},{"age":65,"v":-0.24,"lo":-0.35,"hi":-0.13},{"age":70,"v":-0.32,"lo":-0.45,"hi":-0.19},{"age":75,"v":-0.35,"lo":-0.52,"hi":-0.18},{"age":80,"v":-0.28,"lo":-0.55,"hi":-0.01},{"age":86,"v":-0.05,"lo":-0.55,"hi":0.45}],
"fitD":[{"age":10,"v":-0.27,"lo":-0.4,"hi":-0.14},{"age":20,"v":-0.19,"lo":-0.29,"hi":-0.09},{"age":30,"v":-0.11,"lo":-0.19,"hi":-0.03},{"age":40,"v":-0.03,"lo":-0.1,"hi":0.04},{"age":50,"v":0.06,"lo":-0.01,"hi":0.13},{"age":60,"v":0.14,"lo":0.06,"hi":0.22},{"age":70,"v":0.22,"lo":0.12,"hi":0.32},{"age":80,"v":0.3,"lo":0.17,"hi":0.43},{"age":86,"v":0.35,"lo":0.2,"hi":0.5}],
"fitE":[{"age":10,"v":0.36,"lo":0.2,"hi":0.52},{"age":20,"v":0.25,"lo":0.14,"hi":0.36},{"age":30,"v":0.15,"lo":0.06,"hi":0.24},{"age":40,"v":0.04,"lo":-0.04,"hi":0.12},{"age":50,"v":-0.07,"lo":-0.15,"hi":0.01},{"age":60,"v":-0.17,"lo":-0.26,"hi":-0.08},{"age":70,"v":-0.28,"lo":-0.39,"hi":-0.17},{"age":80,"v":-0.38,"lo":-0.52,"hi":-0.24},{"age":86,"v":-0.44,"lo":-0.61,"hi":-0.27}]
},
"concat":[
{"title":"A","width":233,"height":213,"layer":[
 {"data":{"name":"ptsA"},"mark":{"type":"point","shape":"M-1,-1L1,1M-1,1L1,-1","filled":false,"color":"#1a1a1a","size":15,"strokeWidth":0.85,"opacity":0.85},
  "encoding":{"x":{"field":"age","type":"quantitative","title":"Age in Years","scale":{"domain":[5.1,93.4],"nice":false,"zero":false},"axis":{"values":[10,20,30,40,50,60,70,80,90]}},
   "y":{"field":"v","type":"quantitative","title":"Stroop Congruency Effect (log transformed)","scale":{"domain":[-5.37,3.41],"nice":false,"zero":false},"axis":{"values":[-5,-4,-3,-2,-1,0,1,2,3]}}}},
 {"data":{"values":[{}]},"mark":{"type":"rule","color":"#000000","strokeWidth":1},"encoding":{"y":{"datum":0,"type":"quantitative","axis":{"values":[-5,-4,-3,-2,-1,0,1,2,3]}}}},
 {"data":{"name":"fitA"},"mark":{"type":"area","color":"#3aa93a","opacity":0.35},"encoding":{"x":{"field":"age","type":"quantitative","title":"Age in Years","axis":{"values":[10,20,30,40,50,60,70,80,90]}},"y":{"field":"lo","type":"quantitative","title":"Stroop Congruency Effect (log transformed)","axis":{"values":[-5,-4,-3,-2,-1,0,1,2,3]}},"y2":{"field":"hi"}}},
 {"data":{"name":"fitA"},"mark":{"type":"line","color":"#3aa93a","strokeWidth":1.7,"interpolate":"monotone"},"encoding":{"x":{"field":"age","type":"quantitative","title":"Age in Years","axis":{"values":[10,20,30,40,50,60,70,80,90]}},"y":{"field":"v","type":"quantitative","title":"Stroop Congruency Effect (log transformed)","axis":{"values":[-5,-4,-3,-2,-1,0,1,2,3]}}}}
]},
{"title":"B","width":233,"height":213,"layer":[
 {"data":{"name":"ptsB"},"mark":{"type":"point","shape":"M-1,-1L1,1M-1,1L1,-1","filled":false,"color":"#1a1a1a","size":15,"strokeWidth":0.85,"opacity":0.85},
  "encoding":{"x":{"field":"age","type":"quantitative","title":"Age in Years","scale":{"domain":[5.1,93.4],"nice":false,"zero":false},"axis":{"values":[10,20,30,40,50,60,70,80,90]}},
   "y":{"field":"v","type":"quantitative","title":"OSpan Partial Score","scale":{"domain":[-5.37,3.41],"nice":false,"zero":false},"axis":{"values":[-5,-4,-3,-2,-1,0,1,2,3]}}}},
 {"data":{"values":[{}]},"mark":{"type":"rule","color":"#000000","strokeWidth":1},"encoding":{"y":{"datum":0,"type":"quantitative","axis":{"values":[-5,-4,-3,-2,-1,0,1,2,3]}}}},
 {"data":{"name":"fitB"},"mark":{"type":"area","color":"#2f7cc4","opacity":0.35},"encoding":{"x":{"field":"age","type":"quantitative","title":"Age in Years","axis":{"values":[10,20,30,40,50,60,70,80,90]}},"y":{"field":"lo","type":"quantitative","title":"OSpan Partial Score","axis":{"values":[-5,-4,-3,-2,-1,0,1,2,3]}},"y2":{"field":"hi"}}},
 {"data":{"name":"fitB"},"mark":{"type":"line","color":"#2f7cc4","strokeWidth":1.7,"interpolate":"monotone"},"encoding":{"x":{"field":"age","type":"quantitative","title":"Age in Years","axis":{"values":[10,20,30,40,50,60,70,80,90]}},"y":{"field":"v","type":"quantitative","title":"OSpan Partial Score","axis":{"values":[-5,-4,-3,-2,-1,0,1,2,3]}}}}
]},
{"title":"C","width":233,"height":213,"layer":[
 {"data":{"name":"ptsC"},"mark":{"type":"point","shape":"M-1,-1L1,1M-1,1L1,-1","filled":false,"color":"#1a1a1a","size":15,"strokeWidth":0.85,"opacity":0.85},
  "encoding":{"x":{"field":"age","type":"quantitative","title":"Age in Years","scale":{"domain":[5.1,93.4],"nice":false,"zero":false},"axis":{"values":[10,20,30,40,50,60,70,80,90]}},
   "y":{"field":"v","type":"quantitative","title":"Tower of Hanoi Score","scale":{"domain":[-5.37,3.41],"nice":false,"zero":false},"axis":{"values":[-5,-4,-3,-2,-1,0,1,2,3]}}}},
 {"data":{"values":[{}]},"mark":{"type":"rule","color":"#000000","strokeWidth":1},"encoding":{"y":{"datum":0,"type":"quantitative","axis":{"values":[-5,-4,-3,-2,-1,0,1,2,3]}}}},
 {"data":{"name":"fitC"},"mark":{"type":"area","color":"#e0208a","opacity":0.35,"interpolate":"monotone"},"encoding":{"x":{"field":"age","type":"quantitative","title":"Age in Years","axis":{"values":[10,20,30,40,50,60,70,80,90]}},"y":{"field":"lo","type":"quantitative","title":"Tower of Hanoi Score","axis":{"values":[-5,-4,-3,-2,-1,0,1,2,3]}},"y2":{"field":"hi"}}},
 {"data":{"name":"fitC"},"mark":{"type":"line","color":"#e0208a","strokeWidth":1.7,"interpolate":"monotone"},"encoding":{"x":{"field":"age","type":"quantitative","title":"Age in Years","axis":{"values":[10,20,30,40,50,60,70,80,90]}},"y":{"field":"v","type":"quantitative","title":"Tower of Hanoi Score","axis":{"values":[-5,-4,-3,-2,-1,0,1,2,3]}}}}
]},
{"title":"D","width":233,"height":213,"layer":[
 {"data":{"name":"ptsD"},"mark":{"type":"point","shape":"M-1,-1L1,1M-1,1L1,-1","filled":false,"color":"#1a1a1a","size":15,"strokeWidth":0.85,"opacity":0.85},
  "encoding":{"x":{"field":"age","type":"quantitative","title":"Age in Years","scale":{"domain":[5.1,93.4],"nice":false,"zero":false},"axis":{"values":[10,20,30,40,50,60,70,80,90]}},
   "y":{"field":"v","type":"quantitative","title":"Task Switching Switch Cost (log transformed)","scale":{"domain":[-5.37,3.41],"nice":false,"zero":false},"axis":{"values":[-5,-4,-3,-2,-1,0,1,2,3]}}}},
 {"data":{"values":[{}]},"mark":{"type":"rule","color":"#000000","strokeWidth":1},"encoding":{"y":{"datum":0,"type":"quantitative","axis":{"values":[-5,-4,-3,-2,-1,0,1,2,3]}}}},
 {"data":{"name":"fitD"},"mark":{"type":"area","color":"#f7941d","opacity":0.35},"encoding":{"x":{"field":"age","type":"quantitative","title":"Age in Years","axis":{"values":[10,20,30,40,50,60,70,80,90]}},"y":{"field":"lo","type":"quantitative","title":"Task Switching Switch Cost (log transformed)","axis":{"values":[-5,-4,-3,-2,-1,0,1,2,3]}},"y2":{"field":"hi"}}},
 {"data":{"name":"fitD"},"mark":{"type":"line","color":"#f7941d","strokeWidth":1.7},"encoding":{"x":{"field":"age","type":"quantitative","title":"Age in Years","axis":{"values":[10,20,30,40,50,60,70,80,90]}},"y":{"field":"v","type":"quantitative","title":"Task Switching Switch Cost (log transformed)","axis":{"values":[-5,-4,-3,-2,-1,0,1,2,3]}}}}
]},
{"title":"E","width":233,"height":213,"layer":[
 {"data":{"name":"ptsE"},"mark":{"type":"point","shape":"M-1,-1L1,1M-1,1L1,-1","filled":false,"color":"#1a1a1a","size":15,"strokeWidth":0.85,"opacity":0.85},
  "encoding":{"x":{"field":"age","type":"quantitative","title":"Age in Years","scale":{"domain":[5.1,93.4],"nice":false,"zero":false},"axis":{"values":[10,20,30,40,50,60,70,80,90]}},
   "y":{"field":"v","type":"quantitative","title":"Task Switching Mixing Cost (log transformed)","scale":{"domain":[-5.37,3.41],"nice":false,"zero":false},"axis":{"values":[-5,-4,-3,-2,-1,0,1,2,3]}}}},
 {"data":{"values":[{}]},"mark":{"type":"rule","color":"#000000","strokeWidth":1},"encoding":{"y":{"datum":0,"type":"quantitative","axis":{"values":[-5,-4,-3,-2,-1,0,1,2,3]}}}},
 {"data":{"name":"fitE"},"mark":{"type":"area","color":"#984ea3","opacity":0.35},"encoding":{"x":{"field":"age","type":"quantitative","title":"Age in Years","axis":{"values":[10,20,30,40,50,60,70,80,90]}},"y":{"field":"lo","type":"quantitative","title":"Task Switching Mixing Cost (log transformed)","axis":{"values":[-5,-4,-3,-2,-1,0,1,2,3]}},"y2":{"field":"hi"}}},
 {"data":{"name":"fitE"},"mark":{"type":"line","color":"#984ea3","strokeWidth":1.7},"encoding":{"x":{"field":"age","type":"quantitative","title":"Age in Years","axis":{"values":[10,20,30,40,50,60,70,80,90]}},"y":{"field":"v","type":"quantitative","title":"Task Switching Mixing Cost (log transformed)","axis":{"values":[-5,-4,-3,-2,-1,0,1,2,3]}}}}
]}
]
}
